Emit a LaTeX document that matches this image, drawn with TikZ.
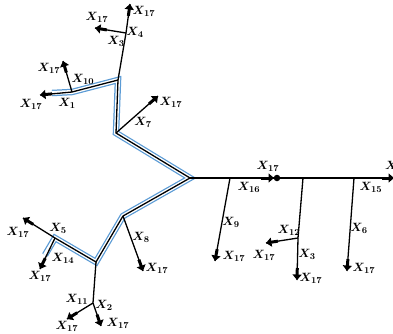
\documentclass[tikz,border=0pt]{standalone}
\usepackage{bm}
\usetikzlibrary{arrows.meta,calc}
\tikzset{
  wire/.style={line width=1.3pt,black},
  fat/.style={line width=3pt,black,-{Triangle[length=5.5pt,width=9pt]}},
  lbl/.style={inner sep=0pt,font=\fontsize{12.5}{14}\selectfont},
  blueouter/.style={line width=6.5pt,color={rgb,255:red,91;green,155;blue,213},line join=miter},
  blueinner/.style={line width=4pt,white,line join=miter},
  dotn/.style={circle,fill=black,inner sep=0pt,minimum size=6.5pt}
}
\newcommand{\farrow}[2]{\draw[wire] (#1) -- (#2); \draw[fat] ($(#2)!12pt!(#1)$) -- (#2);}
\newcommand{\xl}[1]{$\bm{X_{#1}}$}
\begin{document}
\begin{tikzpicture}[x=1pt,y=-1pt]
\useasboundingbox (0,0) rectangle (393,333);
% key points
\coordinate (H) at (190,178);
\coordinate (P1) at (116,133);
\coordinate (P2) at (118,80);
\coordinate (P3) at (72,92);
\coordinate (Bs) at (52,93);
\coordinate (Q1) at (123,216);
\coordinate (Q2) at (96,262);
\coordinate (Q3) at (55,238);
\coordinate (Be) at (45,255);
% blue double backbone
\draw[blueouter] (Bs) -- (P3) -- (P2) -- (P1) -- (H) -- (Q1) -- (Q2) -- (Q3) -- (Be);
\draw[blueinner] (Bs) -- (P3) -- (P2) -- (P1) -- (H) -- (Q1) -- (Q2) -- (Q3) -- (Be);
\draw[wire,line join=miter] (P3) -- (P2) -- (P1) -- (H) -- (Q1) -- (Q2) -- (Q3);
% right main line
\coordinate (R) at (394,178);
\coordinate (B9s) at (230,178);
\coordinate (B3s) at (303,178);
\coordinate (B6s) at (354,178);
\node[dotn] (D) at (277,178) {};
\coordinate (Din) at (274,178);
\farrow{H}{R}
\draw[fat] (261,178) -- (Din);
% arrows to X17
\coordinate (A1) at (40,95);
\coordinate (A10) at (63,61);
\coordinate (A7) at (158,96);
\coordinate (J4) at (126,33);
\coordinate (A4) at (130,4);
\coordinate (A3) at (95,28);
\coordinate (A5) at (23,218);
\coordinate (A14) at (40,269);
\coordinate (A8) at (143,271);
\coordinate (J2) at (93,303);
\coordinate (A11) at (67,319);
\coordinate (A2) at (101,326);
\coordinate (A9) at (215,261);
\coordinate (J12) at (298,238);
\coordinate (A3b) at (297,280);
\coordinate (A12) at (266,243);
\coordinate (A6) at (347,271);
\farrow{P3}{A1}
\farrow{P3}{A10}
\farrow{P1}{A7}
\draw[wire] (P2) -- (J4);
\farrow{J4}{A4}
\farrow{J4}{A3}
\farrow{Q3}{A5}
\farrow{Q3}{A14}
\farrow{Q1}{A8}
\draw[wire] (Q2) -- (J2);
\farrow{J2}{A11}
\farrow{J2}{A2}
\farrow{B9s}{A9}
\draw[wire] (B3s) -- (J12);
\farrow{J12}{A3b}
\farrow{J12}{A12}
\farrow{B6s}{A6}
% labels
\node[lbl] (l1) at (67,103) {\xl{1}};
\node[lbl] (l1e) at (31,104) {\xl{17}};
\node[lbl] (l10) at (83,79) {\xl{10}};
\node[lbl] (l10e) at (49,68) {\xl{17}};
\node[lbl] (l7) at (143,122) {\xl{7}};
\node[lbl] (l7e) at (171,102) {\xl{17}};
\node[lbl] (l4) at (135,32) {\xl{4}};
\node[lbl] (l4e) at (144,11) {\xl{17}};
\node[lbl] (l3) at (116,41) {\xl{3}};
\node[lbl] (l3e) at (97,17) {\xl{17}};
\node[lbl] (l5) at (58,228) {\xl{5}};
\node[lbl] (l5e) at (18,232) {\xl{17}};
\node[lbl] (l14) at (63,258) {\xl{14}};
\node[lbl] (l14e) at (40,276) {\xl{17}};
\node[lbl] (l8) at (141,237) {\xl{8}};
\node[lbl] (l8e) at (157,268) {\xl{17}};
\node[lbl] (l11) at (77,299) {\xl{11}};
\node[lbl] (l11e) at (67,326) {\xl{17}};
\node[lbl] (l2) at (104,305) {\xl{2}};
\node[lbl] (l2e) at (118,323) {\xl{17}};
\node[lbl] (l16) at (249,187) {\xl{16}};
\node[lbl] (l9) at (231,222) {\xl{9}};
\node[lbl] (l9e) at (234,256) {\xl{17}};
\node[lbl] (ld) at (268,166) {\xl{17}};
\node[lbl] (l12) at (289,230) {\xl{12}};
\node[lbl] (l12e) at (264,255) {\xl{17}};
\node[lbl] (l3b) at (307,254) {\xl{3}};
\node[lbl] (l3be) at (311,278) {\xl{17}};
\node[lbl] (l6) at (359,228) {\xl{6}};
\node[lbl] (l6e) at (364,268) {\xl{17}};
\node[lbl] (l15) at (371,187) {\xl{15}};
\node[lbl,anchor=west] (lr) at (385,166) {\xl{17}};
\end{tikzpicture}
\end{document}
